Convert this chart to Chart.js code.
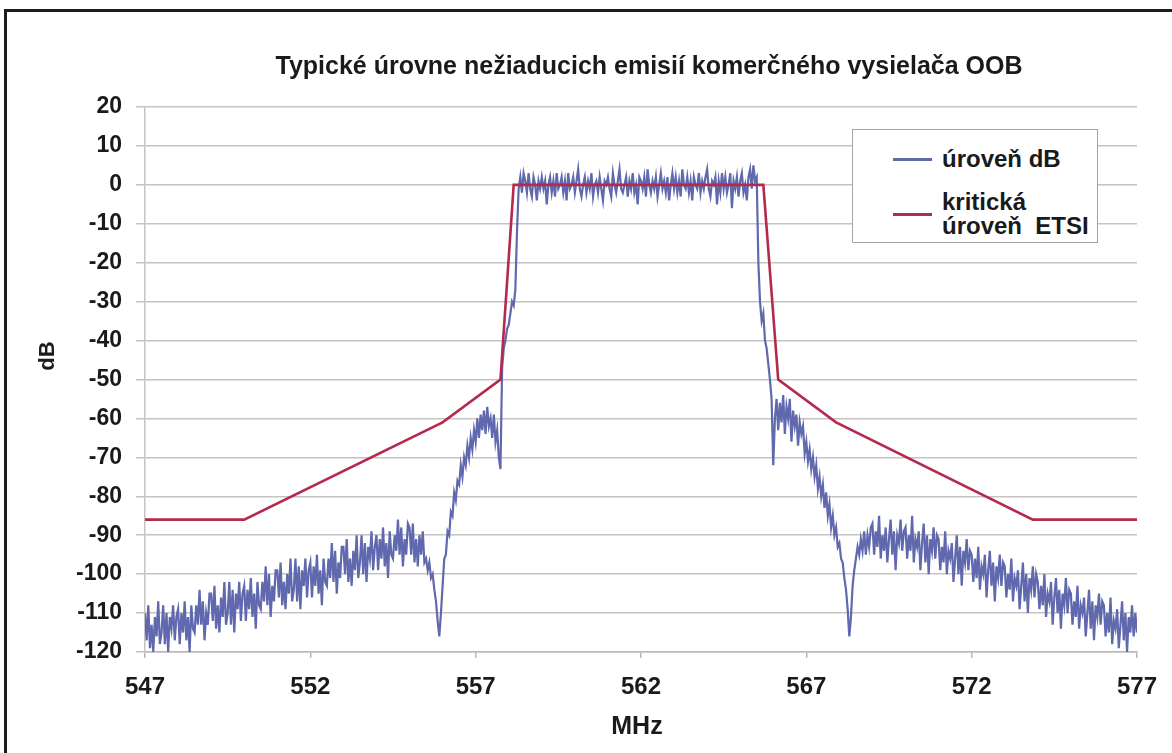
<!DOCTYPE html>
<html>
<head>
<meta charset="utf-8">
<script src="https://cdn.jsdelivr.net/npm/chart.js"></script>
<style>
  html, body { margin: 0; padding: 0; background: #fff; overflow: hidden; }
  #wrap { position: relative; width: 1172px; height: 753px; }
  #frame { position: absolute; left: 4px; top: 9px; width: 1200px; height: 800px; border: 3px solid #1c1c1c; }
  #chart { position: absolute; left: 0; top: 0; }
  #legend {
    position: absolute; left: 852px; top: 129px; width: 246px; height: 114px;
    box-sizing: border-box; border: 1.5px solid #a4a4a4; background: #fff;
    font: bold 24px "Liberation Sans", Arial, sans-serif; color: #1a1a1a;
  }
  .item { position: absolute; left: 0; white-space: pre; line-height: 24px; }
  .swatch { position: absolute; width: 39px; height: 3px; }
</style>
</head>
<body>
<div id="wrap">
  <div id="frame"></div>
  <canvas id="chart" width="1172" height="753"></canvas>
  <div id="legend"></div>
</div>
<script>
const chartTitle = 'Typické úrovne nežiaducich emisií komerčného vysielača OOB';
const xTitle = 'MHz';
const yTitle = 'dB';

const xTickValues = [547, 552, 557, 562, 567, 572, 577];

// measured spectrum, one reading every 0.05 MHz from 547 MHz (10 readings per row)
const freqStart = 547;
const freqStep = 0.05;
const levelDb = [
  -110, -117, -108, -119, -113, -120, -111, -116, -107, -118,
  -115, -108, -118, -110, -120, -111, -114, -108, -117, -111,
  -109, -118, -110, -115, -107, -117, -111, -120, -108, -114,
  -115, -108, -113, -104, -113, -107, -117, -110, -113, -105,
  -105, -112, -103, -114, -108, -115, -106, -111, -102, -113,
  -110, -102, -113, -104, -115, -105, -109, -102, -112, -105,
  -103, -112, -104, -109, -101, -111, -105, -114, -102, -108,
  -109, -102, -107, -98, -108, -100, -111, -103, -107, -99,
  -99, -106, -97, -108, -102, -109, -100, -105, -96, -107,
  -104, -96, -107, -98, -109, -99, -103, -96, -106, -99,
  -97, -106, -98, -103, -95, -105, -99, -108, -96, -102,
  -103, -96, -101, -92, -102, -94, -105, -97, -101, -93,
  -93, -100, -91, -102, -96, -103, -94, -99, -90, -101,
  -97, -90, -100, -92, -102, -93, -96, -89, -99, -93,
  -90, -99, -91, -96, -88, -98, -92, -101, -89, -95,
  -96, -90, -94, -86, -95, -88, -98, -91, -95, -87,
  -88, -95, -87, -97, -91, -98, -90, -95, -89, -97,
  -96, -99, -97, -101, -100, -104, -107, -112, -116, -110,
  -103, -96, -95, -89, -90, -84, -85, -79, -81, -76,
  -77, -72, -75, -70, -72, -67, -70, -65, -68, -63,
  -66, -60, -65, -59, -63, -58, -64, -57, -62, -60,
  -65, -59, -66, -63, -70, -73, -47, -42, -40, -37,
  -36, -33, -30, -31, -27, -12, -1, 2, -2, 3,
  1, -2, 3, -1, -3, 2, 0, -4, 1, -1,
  2, -1, 1, -5, 0, 2, -2, 1, -3, 3,
  -1, 0, 2, -2, 1, -4, 3, -1, 0, 2,
  -2, 1, 4, -1, -3, 0, 2, -2, 1, -1,
  3, -3, 0, 1, -2, 2, -1, -4, 1, 0,
  2, -1, -3, 3, 0, -2, 1, 4, -1, -2,
  0, 2, -3, 1, -1, 3, -2, 0, -5, 2,
  1, -1, 2, -3, 4, 0, -2, 1, -1, 2,
  -3, 0, 3, -1, 1, -2, 2, -4, 0, 3,
  -1, 2, -2, 1, -3, 4, 0, -1, 2, -2,
  1, -4, 2, 0, -1, 3, -2, 1, -1, 2,
  4, -1, -3, 1, 0, 2, -5, 1, -2, 3,
  -1, 2, -2, 0, 3, -6, 1, -1, 2, -3,
  1, 3, -2, 0, -4, 2, 4, -1, 5, 1,
  2, -20, -30, -35, -33, -40, -42, -46, -50, -55,
  -72, -60, -55, -63, -56, -61, -54, -64, -57, -60,
  -55, -66, -58, -62, -59, -67, -61, -64, -62, -69,
  -66, -71, -68, -73, -70, -75, -72, -78, -75, -80,
  -77, -83, -79, -85, -82, -88, -85, -90, -88, -93,
  -92, -96, -97, -101, -104, -109, -116, -111, -103, -99,
  -96, -93, -95, -91, -94, -89, -95, -90, -93, -88,
  -87, -95, -89, -93, -85, -96, -90, -94, -88, -97,
  -91, -86, -95, -89, -99, -90, -92, -86, -94, -89,
  -88, -96, -90, -94, -85, -97, -91, -93, -89, -99,
  -92, -87, -97, -90, -100, -91, -94, -88, -96, -90,
  -91, -99, -93, -97, -89, -100, -94, -96, -92, -102,
  -96, -90, -100, -93, -103, -94, -97, -91, -99, -94,
  -95, -102, -96, -101, -93, -104, -98, -100, -95, -106,
  -99, -94, -103, -97, -107, -98, -101, -95, -103, -97,
  -98, -106, -100, -104, -96, -107, -101, -103, -99, -109,
  -103, -97, -107, -100, -110, -101, -104, -98, -106, -100,
  -102, -109, -103, -108, -100, -111, -105, -107, -102, -113,
  -106, -101, -110, -104, -114, -105, -108, -101, -110, -104,
  -105, -113, -107, -111, -103, -114, -108, -110, -106, -116,
  -110, -104, -114, -107, -117, -108, -111, -105, -113, -107,
  -108, -116, -110, -115, -106, -118, -112, -114, -109, -119,
  -113, -107, -117, -110, -120, -111, -115, -108, -116, -110,
  -115
];

// ETSI mask corner points
const etsiFreq = [547, 550, 556, 557.75, 558.15, 565.7, 566.15, 567.9, 573.85, 577];
const etsiLevel = [-86, -86, -61, -50, 0, 0, -50, -61, -86, -86];

const seriesNames = ['úroveň dB', 'kritická\núroveň  ETSI'];
const seriesColors = ['#6068ae', '#b42a4c'];

const FONT = '"Liberation Sans", Arial, sans-serif';
const TEXT = '#1a1a1a';

const spectrum = levelDb.map((v, i) => ({ x: +(freqStart + i * freqStep).toFixed(2), y: v }));
const mask = etsiFreq.map((f, i) => ({ x: f, y: etsiLevel[i] }));

const textPlugin = {
  id: 'texts',
  afterDraw(chart) {
    const c = chart.ctx;
    const a = chart.chartArea;
    c.save();
    c.fillStyle = TEXT;
    c.textAlign = 'center';
    c.textBaseline = 'middle';
    c.font = 'bold 25px ' + FONT;
    c.fillText(chartTitle, 649, 67);
    c.font = 'bold 25px ' + FONT;
    c.fillText(xTitle, (a.left + a.right) / 2 - 4, 727);
    c.translate(48, 356);
    c.rotate(-Math.PI / 2);
    c.font = 'bold 22px ' + FONT;
    c.fillText(yTitle, 0, 0);
    c.restore();
  }
};

const chart = new Chart(document.getElementById('chart'), {
  type: 'line',
  data: {
    datasets: [{
      label: seriesNames[0],
      data: spectrum,
      borderColor: seriesColors[0],
      borderWidth: 2.2,
      pointRadius: 0,
      tension: 0,
      order: 1
    }, {
      label: seriesNames[1],
      data: mask,
      borderColor: seriesColors[1],
      borderWidth: 2.6,
      pointRadius: 0,
      tension: 0,
      order: 0
    }]
  },
  options: {
    responsive: false,
    animation: false,
    devicePixelRatio: 1,
    layout: { padding: { top: 107, right: 28, left: 0, bottom: 0 } },
    plugins: {
      legend: { display: false },
      tooltip: { enabled: false },
      title: { display: false }
    },
    scales: {
      x: {
        type: 'linear',
        min: 547,
        max: 577,
        afterBuildTicks: (s) => { s.ticks = xTickValues.map(v => ({ value: v })); },
        afterFit: (s) => { s.height = 101; },
        grid: { drawOnChartArea: false, tickLength: 6, color: '#b8b8b8', lineWidth: 1.5 },
        border: { color: '#b8b8b8', width: 1.5 },
        ticks: { font: { family: FONT, size: 24, weight: 'bold' }, color: TEXT, padding: 15, maxRotation: 0 }
      },
      y: {
        min: -120,
        max: 20,
        afterFit: (s) => { s.width = 145; },
        grid: { color: '#c4c4c4', lineWidth: 1.5, tickLength: 9 },
        border: { color: '#c4c4c4', width: 1.5 },
        ticks: { stepSize: 10, font: { family: FONT, size: 23, weight: 'bold' }, color: TEXT, padding: 14 }
      }
    }
  },
  plugins: [textPlugin]
});

// legend built from the datasets
const legend = document.getElementById('legend');
const swatchY = [29, 84];
const textTop = [17, 60];
chart.data.datasets.forEach((ds, i) => {
  const sw = document.createElement('div');
  sw.className = 'swatch';
  sw.style.left = '40px';
  sw.style.top = (swatchY[i] - 1) + 'px';
  sw.style.background = ds.borderColor;
  legend.appendChild(sw);
  const t = document.createElement('div');
  t.className = 'item';
  t.style.left = '89px';
  t.style.top = textTop[i] + 'px';
  t.textContent = ds.label;
  legend.appendChild(t);
});
</script>
</body>
</html>
